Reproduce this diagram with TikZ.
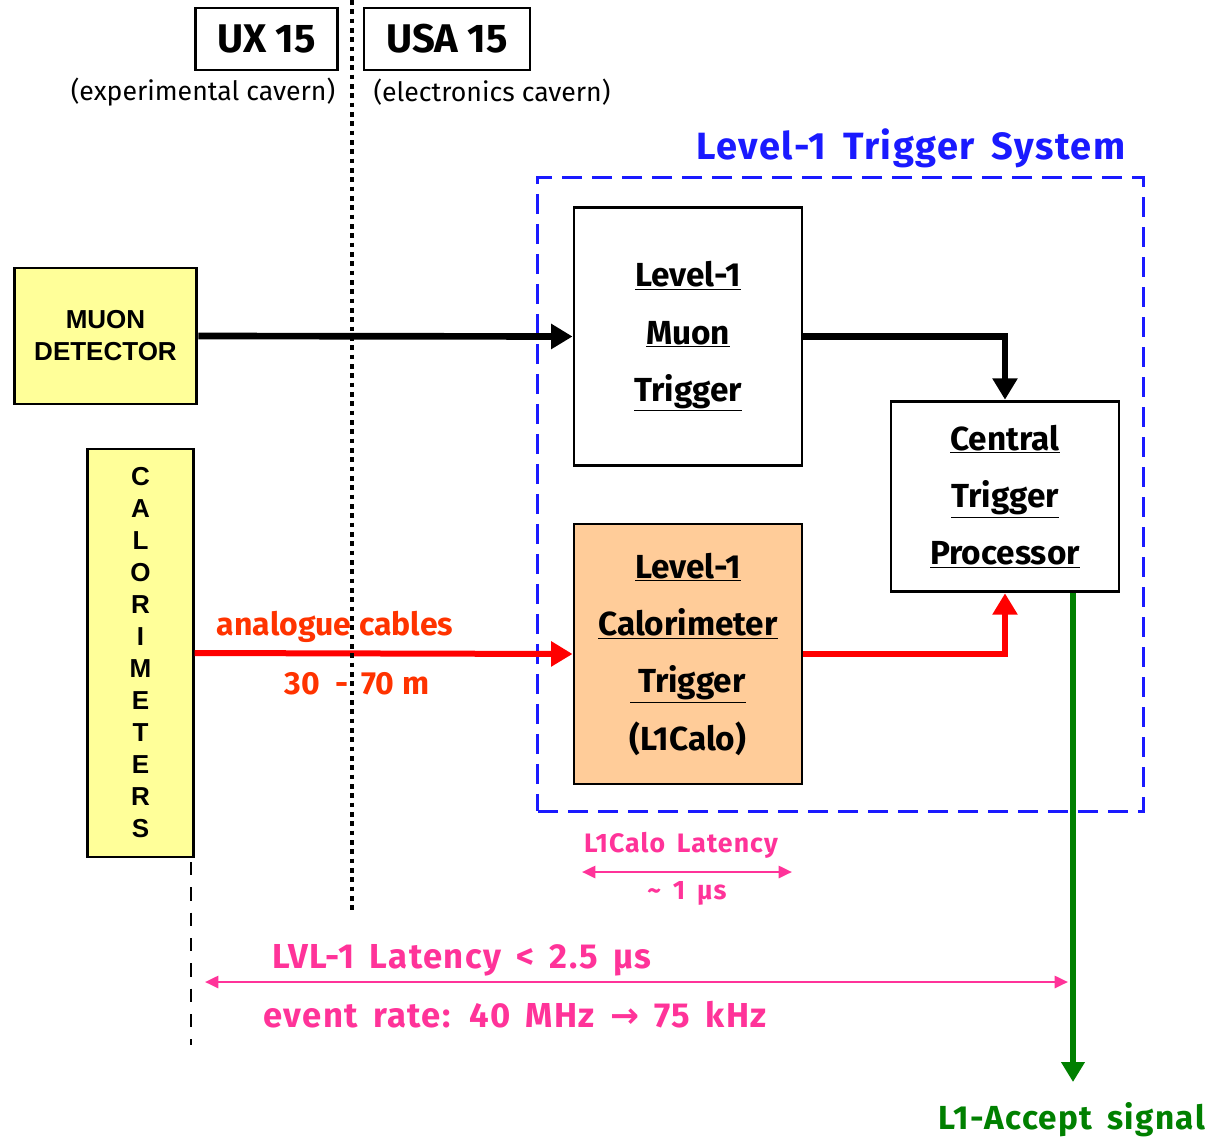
\documentclass[tikz,border=0pt]{standalone}
\usepackage{fontspec}
\setmainfont{Fira Sans}
\newfontfamily\widefont[LetterSpace=4,WordSpace=1.6]{Fira Sans}
\newfontfamily\arialfont{Liberation Sans}
\newfontfamily\arrowfont{DejaVu Sans}
\usetikzlibrary{arrows.meta,positioning}
\definecolor{latpink}{HTML}{FF3399}
\definecolor{cablered}{HTML}{FF3300}
\definecolor{detyellow}{HTML}{FFFF99}
\definecolor{calopeach}{HTML}{FFCC99}
\definecolor{accgreen}{HTML}{008000}
\definecolor{sysblue}{HTML}{1A1AFF}

\begin{document}
\begin{tikzpicture}[x=0.75pt, y=-0.75pt,
    cavbox/.style={draw, line width=2.2pt, minimum height=46.5pt, font=\fontsize{30}{30}\selectfont\bfseries},
    cavtxt/.style={font=\fontsize{20}{20}\selectfont},
    trigbox/.style={draw, line width=2.2pt, align=center, minimum width=171pt, font=\fontsize{25}{43}\selectfont\bfseries},
    detbox/.style={draw, line width=2.2pt, fill=detyellow, align=center, font=\arialfont\fontsize{19.5}{24}\selectfont\bfseries},
    sysbox/.style={draw=sysblue, line width=2.2pt, dash pattern=on 15pt off 7.5pt, minimum width=454pt, minimum height=475pt},
    blkarr/.style={-{Triangle[length=16pt,width=18pt]}, line width=5pt},
    redarr/.style={-{Triangle[length=16pt,width=18pt]}, line width=4.5pt, red},
    grnarr/.style={-{Triangle[length=15pt,width=17pt]}, line width=4.5pt, accgreen},
    latarr/.style={{Triangle[length=10pt,width=9pt]}-{Triangle[length=10pt,width=9pt]}, line width=2pt, latpink},
    lattxt/.style={text=latpink, font=\widefont\fontsize{26}{26}\selectfont\bfseries},
    cabtxt/.style={text=cablered, font=\fontsize{24}{24}\selectfont\bfseries}
]
\useasboundingbox (0,0) rectangle (1207,1139);

\node[cavbox, minimum width=107pt] (ux) at (266.5,39) {UX 15};
\node[cavbox, minimum width=124.5pt] (usa) at (447,39) {USA 15};
\node[cavtxt] (uxtxt) at (203,92) {(experimental cavern)};
\node[cavtxt] (usatxt) at (492,92) {(electronics cavern)};

\node[sysbox] (l1sys) at (840.5,494.5) {};
\node[text=sysblue, font=\widefont\fontsize{28.5}{28.5}\selectfont\bfseries] (systxt) at (911,148) {Level-1 Trigger System};

\node[trigbox, minimum height=194pt] (l1muon) at (688,336.5) {\underline{Level-1}\\\underline{Muon}\\\underline{Trigger}};
\node[trigbox, minimum height=143pt] (ctp) at (1005,496.5) {\underline{Central}\\\underline{Trigger}\\\underline{Processor}};
\node[trigbox, fill=calopeach, minimum height=195pt] (l1calo) at (688,654) {\underline{Level-1}\\\underline{Calorimeter}\\\underline{\ Trigger}\\(L1Calo)};

\node[detbox, minimum width=137pt, minimum height=102pt] (muon) at (105.5,336) {MUON\\DETECTOR};
\node[detbox, minimum width=79pt, minimum height=306pt] (calo) at (140.5,653) {C\\A\\L\\O\\R\\I\\M\\E\\T\\E\\R\\S};

\draw[blkarr] (muon.east) -- (l1muon.west);
\draw[blkarr] (l1muon.east) -| (ctp.north);
\draw[redarr] (calo.east) -- (l1calo.west);
\draw[redarr] (l1calo.east) -| (ctp.south);

\node[cabtxt] (cabtxt) at (335,627) {analogue cables};
\node[cabtxt] (lentxt) at (357,684) {30 \ - \,70 m};

\coordinate (acc) at (1073,1082);
\draw[grnarr] (ctp.south -| acc) -- (acc);
\node[text=accgreen, font=\widefont\fontsize{25}{25}\selectfont\bfseries] (acctxt) at (1072,1120) {L1-Accept signal};

\coordinate (divtop) at (352,0);
\coordinate (divbot) at (352,910);
\draw[line width=3.5pt, dash pattern=on 3.5pt off 3.5pt] (divtop) -- (divbot);
\coordinate (edgetop) at (191,862);
\coordinate (edgebot) at (191,1045);
\draw[line width=2.2pt, dash pattern=on 10pt off 9pt] (edgetop) -- (edgebot);

\coordinate (calol) at (582,872);
\coordinate (calor) at (792,872);
\draw[latarr] (calol) -- (calor);
\node[lattxt, font=\widefont\fontsize{20}{20}\selectfont\bfseries] (calolat) at (681,845) {L1Calo Latency};
\node[lattxt, font=\widefont\fontsize{20}{20}\selectfont\bfseries] (calous) at (687,893) {\textasciitilde\ 1 μs};

\coordinate (lvll) at (205,982);
\coordinate (lvlr) at (1068,982);
\draw[latarr] (lvll) -- (lvlr);
\node[lattxt] (lvllat) at (462,960) {LVL-1 Latency < 2.5 μs};
\node[lattxt] (lvlrate) at (515,1015) {event rate: 40 MHz {\arrowfont →} 75 kHz};
\end{tikzpicture}
\end{document}
